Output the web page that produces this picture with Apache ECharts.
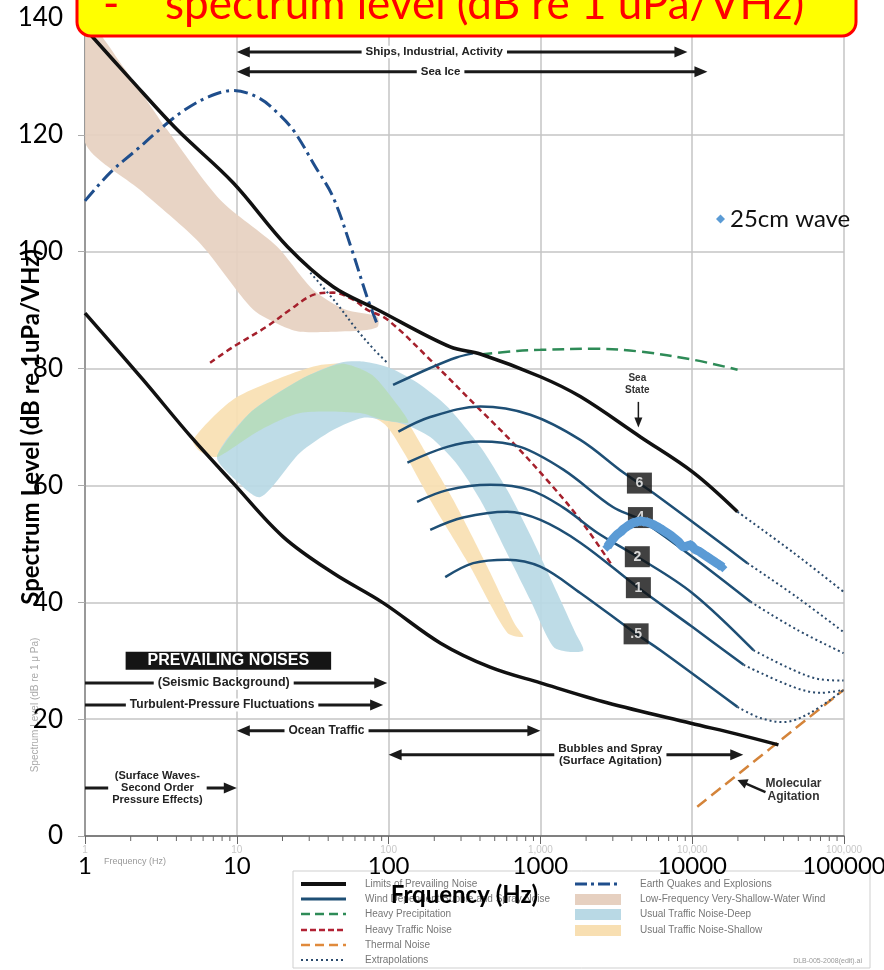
<!DOCTYPE html>
<html>
<head>
<meta charset="utf-8">
<script src="https://cdn.jsdelivr.net/npm/echarts@6/dist/echarts.min.js"></script>
<style>html,body{margin:0;padding:0;background:#fff}#chart{width:884px;height:970px}</style>
</head>
<body>
<div id="chart"></div>
<script>
// ---------------- data ----------------
const freqMin = 1, freqMax = 100000;
const levelMin = 0, levelMax = 140, levelStep = 20;
const minorMantissa = [2,3,4,5,6,7,8,9];
const decades = [1,10,100,1000,10000];

// curves: [frequency Hz, spectrum level dB]
const limitUpper = [[1,138.2],[2,129.5],[4.04,120.9],[9.46,111.8],[21.5,100.9],[43.1,94.0],[84,90.1],[255,83.7],[402,82.5],[1000,78.6],[1832,75.2],[4560,68.3],[10190,62.2],[19860,55.5]];
const limitUpperExtrap = [[19860,55.5],[46400,48.5],[99300,41.8]];
const limitLower = [[1,89.5],[2.41,78.1],[5,68.3],[9.46,60.4],[20.2,51.2],[43.1,45.0],[92,39.9],[220,33.0],[466,28.9],[1000,26.2],[2750,22.8],[9800,19.3],[20000,17.4],[37000,15.6]];
const lowFreqExtrap = [[30.5,96.4],[45,91.3],[62,86.6],[80,83.3],[98,81.0]];
const earthquake = [[1,108.7],[1.46,113.5],[2.2,117.5],[3.1,120.9],[4.5,124.2],[6.5,126.5],[9.5,127.6],[14,126.3],[19,123.5],[24,120.5],[33,114.5],[43,109.4],[57,100.5],[72,92.3],[85,87.3]];
const heavyTraffic = [[6.67,81.0],[9.46,83.7],[15.8,87.2],[22.5,90.1],[31.8,92.6],[43,93.0],[58.4,91.8],[72,90.1],[98,88.4],[188,81.5],[402,72.9],[660,67.3],[1100,61.0],[1832,54.1],[3000,46.1]];
const precipitation = [[402,82.4],[700,83.0],[1000,83.2],[2250,83.4],[4560,82.9],[10200,81.5],[19900,79.8]];
const thermal = [[10800,5.0],[99300,25.0]];

const windTop = [[107,77.2],[188,80.1],[280,81.9],[360,82.6]];
const windS6 = [[116,69.2],[188,71.7],[402,73.5],[858,72.1],[1832,67.8],[3520,62.2],[5550,58.7],[23100,46.7]];
const windS6Extrap = [[23100,46.7],[49400,40.8],[99300,34.9]];
const windS4 = [[133,63.9],[243,66.6],[402,67.5],[736,66.6],[1416,62.7],[3000,56.3],[4560,54.1],[10000,47.8],[24200,40.1]];
const windS4Extrap = [[24200,40.1],[49000,35.3],[99300,31.3]];
const windS2 = [[154,57.2],[243,59.2],[468,60.1],[858,59.2],[1416,56.2],[2370,51.9],[4350,47.8],[10000,41.6],[25300,31.8]];
const windS2Extrap = [[25300,31.8],[46400,28.4],[70000,26.8],[99300,26.6]];
const windS1 = [[188,52.4],[310,54.5],[605,55.5],[1000,54.1],[1832,50.2],[4420,42.5],[10000,35.8],[21800,29.3]];
const windS1Extrap = [[21800,29.3],[46400,25.5],[70000,24.5],[99300,25.0]];
const windS05 = [[236,44.3],[361,46.7],[605,47.3],[1000,46.1],[1832,41.6],[4270,34.6],[6170,31.8],[19860,22.1]];
const windS05Extrap = [[19860,22.1],[28100,20.2],[39900,19.5],[60100,21.1],[99300,25.0]];

// shaded bands: upper edge left->right, lower edge right->left
const shallowWindUpper = [[1,139.7],[1.84,131.2],[3.47,120.9],[7.76,108.9],[18.4,100.9],[31.8,93.5],[51.7,90.1],[84,88.9]];
const shallowWindLower = [[85,87.2],[72,86.6],[43,86.3],[26.1,86.3],[20.2,87.2],[12.8,90.1],[5.7,101.5],[2.3,110.6],[1,118.7]];
const trafficShallowUpper = [[5.15,67.8],[9.46,74.7],[20.2,78.6],[33.8,80.5],[51.7,80.8],[78,78.9],[114,73.8],[174,65.8],[267,57.5],[447,46.1],[684,36.1],[771,34.1]];
const trafficShallowLower = [[605,34.8],[345,46.1],[188,57.5],[129,65.2],[95,70.4],[65,72.4],[26.1,72.4],[14.3,69.5],[7.41,64.9],[5.73,65.8]];
const trafficDeepUpper = [[7.41,64.9],[12.2,72.4],[26.1,78.1],[48,81.0],[68,81.2],[102,80.1],[154,77.6],[243,73.5],[402,66.6],[605,59.2],[858,51.5],[1292,41.6],[1700,34.8],[1920,31.8]];
const trafficDeepLower = [[1575,31.5],[1217,32.4],[858,40.4],[587,49.0],[402,57.5],[275,64.0],[188,68.3],[129,70.4],[92,71.2],[68,71.6],[43,69.5],[26.1,65.6],[14.3,58.0],[9.75,61.0]];
const trafficOverlap = [[7.41,64.9],[12.2,72.4],[26.1,78.1],[40,80.2],[51.7,80.8],[78,78.9],[114,73.8],[135,70.8],[110,70.9],[92,71.2],[65,72.4],[26.1,72.4],[14.3,69.5]];

// measured series
const wave25cm = [[2760,49.5],[2900,50.3],[3000,50.8],[3200,51.6],[3360,52.0],[3550,52.6],[3740,53.0],[3950,53.4],[4100,53.6],[4350,53.8],[4560,53.9],[4800,53.8],[5070,53.7],[5400,53.4],[5720,53.1],[6100,52.7],[6460,52.3],[7000,51.7],[7520,51.1],[8100,50.4],[8750,49.5],[9250,49.6],[9730,49.8],[10400,49.1],[11300,48.6],[12200,48.0],[13200,47.4],[14300,46.8],[15300,46.3],[15800,46.0]];

// sea state labels
const seaStateLabels = ['6','4','2','1','.5'];
const seaStateFreq = [4490,4560,4350,4420,4270];
const seaStateLevel = [60.4,54.5,47.8,42.5,34.6];

// range annotations
const annoText = ['Ships, Industrial, Activity','Sea Ice','(Seismic Background)','Turbulent-Pressure Fluctuations','Ocean Traffic','Bubbles and Spray\n(Surface Agitation)','(Surface Waves-\nSecond Order\nPressure Effects)'];
const annoFrom = [10,10,1,1,10,100,1];
const annoTo = [9300,12600,98,92,1000,21700,10];
const annoLevel = [134.2,130.8,26.2,22.4,18.0,13.9,8.2];
const annoTextAt = [200,220,8.2,8,39,2890,3.0];
const annoBothHeads = [true,true,false,false,true,true,false];

// notes
const noteText = ['PREVAILING NOISES','Sea\nState','Molecular\nAgitation'];
const noteAt = [[8.8,30.0],[4350,77.4],[46500,7.9]];
const noteArrowFrom = [null,[4420,74.3],[30400,7.5]];
const noteArrowTo = [null,[4420,69.9],[19860,9.6]];

// ---------------- styling / rendering ----------------
const ANNO_FONT = [11.5,11.5,12.5,12,12,11.5,11];
const minorTicks = [];
decades.forEach(d => minorMantissa.forEach(m => minorTicks.push(m*d)));

function band(name, pts, color, z) {
  return {
    type:'custom', name, silent:true, z, clip:true,
    data:[pts[0]],
    renderItem:(params, api) => ({
      type:'polygon',
      shape:{points: pts.map(p => api.coord(p)), smooth:0.25},
      style:{fill:color, opacity:0.92}
    })
  };
}
function curve(name, data, color, width, type, z) {
  return {type:'line', name, data, silent:true, symbol:'none', showSymbol:false, smooth:0.35, z,
    lineStyle:{color, width, type: type || 'solid', cap:'butt'}};
}
const BLK = '#111', WIND = '#1e4f75', EXT = '#2a4a6c';

function arrowHead(tip, dir, hl, hw) {
  return {type:'polygon', shape:{points:[[tip[0],tip[1]],[tip[0]-dir[0]*hl+dir[1]*hw, tip[1]-dir[1]*hl-dir[0]*hw],[tip[0]-dir[0]*hl-dir[1]*hw, tip[1]-dir[1]*hl+dir[0]*hw]]}, style:{fill:'#1a1a1a'}};
}
const LEG_FONT = '10px "Liberation Sans"';
function legText(x, y, text) {
  return {type:'text', z:-1, x, y, style:{text, fill:'#777', font:LEG_FONT, textVerticalAlign:'middle', verticalAlign:'middle'}};
}

const option = {
  animation:false,
  backgroundColor:'#fff',
  grid:{left:85, right:40, top:18, bottom:134, containLabel:false, outerBoundsMode:'none'},
  legend:{data:['25cm wave'], left:711, top:202, icon:'diamond', itemWidth:9, itemHeight:9, itemGap:6,
    textStyle:{fontSize:24, color:'#111', fontFamily:'Lato'}},
  xAxis:[{
    type:'log', logBase:10, min:freqMin, max:freqMax,
    name:'Frquency (Hz)', nameLocation:'middle', nameGap:47, nameMoveOverlap:false,
    nameTextStyle:{fontSize:24, fontWeight:'bold', color:'#000', fontFamily:'Lato'},
    axisLine:{show:true, lineStyle:{color:'#666', width:1.5}},
    axisTick:{show:true, length:8, lineStyle:{color:'#666'}},
    axisLabel:{fontSize:24, color:'#000', fontFamily:'Lato', margin:18, showMinLabel:true, showMaxLabel:true, hideOverlap:false,
      formatter: v => String(Math.round(v))},
    splitLine:{show:true, lineStyle:{color:'#c4c4c4', width:1.5}}
  },{
    type:'log', logBase:10, min:freqMin, max:freqMax, position:'bottom',
    axisLine:{show:false}, axisTick:{show:false}, splitLine:{show:false},
    axisLabel:{fontSize:10, color:'#c8c8c8', margin:9, formatter: v => Math.round(v).toLocaleString('en-US')}
  }],
  yAxis:{
    type:'value', min:levelMin, max:levelMax, interval:levelStep,
    name:'Spectrum Level (dB re 1uPa/VHz)', nameLocation:'middle', nameGap:42, nameRotate:90, nameMoveOverlap:false,
    nameTextStyle:{fontSize:24, fontWeight:'bold', color:'#000', fontFamily:'Lato'},
    axisLine:{show:true, lineStyle:{color:'#999', width:2}},
    axisTick:{show:true, length:7, lineStyle:{color:'#aaa'}},
    axisLabel:{fontSize:26, color:'#000', fontFamily:'Lato', margin:22},
    splitLine:{show:true, lineStyle:{color:'#c4c4c4', width:1.5}}
  },
  graphic:{elements:[
    // title box
    {type:'rect', z:100, shape:{x:77, y:-22, width:779, height:58, r:14}, style:{fill:'#ffff00', stroke:'#ff0000', lineWidth:3}},
    {type:'text', z:101, x:103, y:5, style:{text:'-', fill:'#ff0000', font:'44px Lato', textVerticalAlign:'middle', verticalAlign:'middle'}},
    {type:'text', z:101, x:165, y:5, style:{text:'spectrum level (dB re 1 uPa/VHz)', fill:'#ff0000', font:'44px Lato', textVerticalAlign:'middle', verticalAlign:'middle'}},
    // faint texts of the underlying figure
    {type:'text', z:-1, x:35, y:705, rotation:Math.PI/2, style:{text:'Spectrum Level (dB re 1 \u03bc Pa)', fill:'#aaa', font:'10px "Liberation Sans"', textAlign:'center', align:'center', textVerticalAlign:'middle', verticalAlign:'middle'}},
    {type:'text', z:-1, x:135, y:862, style:{text:'Frequency (Hz)', fill:'#999', font:'9px "Liberation Sans"', textAlign:'center', align:'center', textVerticalAlign:'middle', verticalAlign:'middle'}},
    // legend of the underlying figure
    {type:'rect', z:-2, shape:{x:293, y:871, width:577, height:97}, style:{fill:'#fff', stroke:'#cfcfcf', lineWidth:1}},
    {type:'line', z:-1, shape:{x1:301,y1:884,x2:346,y2:884}, style:{stroke:BLK, lineWidth:4}},
    {type:'line', z:-1, shape:{x1:301,y1:899,x2:346,y2:899}, style:{stroke:WIND, lineWidth:3}},
    {type:'line', z:-1, shape:{x1:301,y1:914,x2:346,y2:914}, style:{stroke:'#2e8b57', lineWidth:2.5, lineDash:[9,5]}},
    {type:'line', z:-1, shape:{x1:301,y1:930,x2:346,y2:930}, style:{stroke:'#b22234', lineWidth:2.5, lineDash:[6,3]}},
    {type:'line', z:-1, shape:{x1:301,y1:945,x2:346,y2:945}, style:{stroke:'#e08a3c', lineWidth:2.5, lineDash:[9,5]}},
    {type:'line', z:-1, shape:{x1:301,y1:960,x2:346,y2:960}, style:{stroke:EXT, lineWidth:2, lineDash:[2,3]}},
    legText(365, 884, 'Limits of Prevailing Noise'),
    legText(365, 899, 'Wind Dependent Bubble and Spray Noise'),
    legText(365, 914, 'Heavy Precipitation'),
    legText(365, 930, 'Heavy Traffic Noise'),
    legText(365, 945, 'Thermal Noise'),
    legText(365, 960, 'Extrapolations'),
    {type:'line', z:-1, shape:{x1:575,y1:884,x2:621,y2:884}, style:{stroke:'#1f4e8c', lineWidth:3, lineDash:[12,4,3,4]}},
    {type:'rect', z:-1, shape:{x:575,y:894,width:46,height:11}, style:{fill:'#e6d0c0'}},
    {type:'rect', z:-1, shape:{x:575,y:909,width:46,height:11}, style:{fill:'#b9d9e5'}},
    {type:'rect', z:-1, shape:{x:575,y:925,width:46,height:11}, style:{fill:'#f8dfb2'}},
    legText(640, 884, 'Earth Quakes and Explosions'),
    legText(640, 899, 'Low-Frequency Very-Shallow-Water Wind'),
    legText(640, 914, 'Usual Traffic Noise-Deep'),
    legText(640, 930, 'Usual Traffic Noise-Shallow'),
    {type:'text', z:-1, x:862, y:961, style:{text:'DLB-005-2008(edit).ai', fill:'#999', font:'7px "Liberation Sans"', textAlign:'right', align:'right', textVerticalAlign:'middle', verticalAlign:'middle'}}
  ]},
  series:[
    band('Low-Frequency Very-Shallow-Water Wind', shallowWindUpper.concat(shallowWindLower), '#e6d0c0', 1),
    band('Usual Traffic Noise-Shallow', trafficShallowUpper.concat(trafficShallowLower), '#f8dfb2', 1),
    band('Usual Traffic Noise-Deep', trafficDeepUpper.concat(trafficDeepLower), '#b9d9e5', 1),
    band('Traffic overlap', trafficOverlap, '#b6dcbc', 1),
    curve('Extrapolation LF', lowFreqExtrap, EXT, 2, [2,3], 3),
    curve('Earth Quakes and Explosions', earthquake, '#1f4e8c', 3, [14,5,3,5], 3),
    curve('Heavy Traffic Noise', heavyTraffic, '#a5202c', 2.5, [6,4], 3),
    curve('Heavy Precipitation', precipitation, '#2e8b57', 2.5, [12,6], 3),
    curve('Thermal Noise', thermal, '#d4843a', 2.5, [12,6], 3),
    curve('Wind top', windTop, WIND, 2.5, 'solid', 3),
    curve('Wind 6', windS6, WIND, 2.5, 'solid', 3),
    curve('Wind 4', windS4, WIND, 2.5, 'solid', 3),
    curve('Wind 2', windS2, WIND, 2.5, 'solid', 3),
    curve('Wind 1', windS1, WIND, 2.5, 'solid', 3),
    curve('Wind .5', windS05, WIND, 2.5, 'solid', 3),
    curve('Wind 6 ext', windS6Extrap, EXT, 2, [2,3], 3),
    curve('Wind 4 ext', windS4Extrap, EXT, 2, [2,3], 3),
    curve('Wind 2 ext', windS2Extrap, EXT, 2, [2,3], 3),
    curve('Wind 1 ext', windS1Extrap, EXT, 2, [2,3], 3),
    curve('Wind .5 ext', windS05Extrap, EXT, 2, [2,3], 3),
    curve('Limit upper ext', limitUpperExtrap, EXT, 2, [2,3], 3),
    curve('Limits of Prevailing Noise', limitUpper, BLK, 3.5, 'solid', 4),
    curve('Limits lower', limitLower, BLK, 3.5, 'solid', 4),
    {
      type:'custom', name:'minor ticks', silent:true, z:2,
      data: minorTicks.map(v => [v, levelMin]),
      renderItem:(params, api) => {
        const p = api.coord([api.value(0), api.value(1)]);
        return {type:'line', shape:{x1:p[0], y1:p[1], x2:p[0], y2:p[1]+5}, style:{stroke:'#666', lineWidth:1}};
      }
    },
    {
      type:'custom', name:'ranges', silent:true, z:5,
      data: annoLevel.map((l,i) => [annoFrom[i], l]),
      renderItem:(params, api) => {
        const i = params.dataIndex;
        const a = api.coord([annoFrom[i], annoLevel[i]]);
        const b = api.coord([annoTo[i], annoLevel[i]]);
        const t = api.coord([annoTextAt[i], annoLevel[i]]);
        const hl = 13, hw = 5.5;
        const ch = [];
        ch.push({type:'line', shape:{x1:a[0] + (annoBothHeads[i] ? hl-3 : 0), y1:a[1], x2:b[0]-hl+3, y2:b[1]}, style:{stroke:'#1a1a1a', lineWidth:3}});
        ch.push(arrowHead(b, [1,0], hl, hw));
        if (annoBothHeads[i]) ch.push(arrowHead(a, [-1,0], hl, hw));
        ch.push({type:'text', x:t[0], y:t[1], style:{text:annoText[i], fill:'#222',
          font:'bold ' + ANNO_FONT[i] + 'px "Liberation Sans"', textAlign:'center', align:'center',
          textVerticalAlign:'middle', verticalAlign:'middle', backgroundColor:'#fff', padding:[0,4], lineHeight:ANNO_FONT[i]+1}});
        return {type:'group', children:ch};
      }
    },
    {
      type:'custom', name:'notes', silent:true, z:5,
      data: noteAt,
      renderItem:(params, api) => {
        const i = params.dataIndex;
        const p = api.coord(noteAt[i]);
        const ch = [];
        if (i === 0) {
          ch.push({type:'text', x:p[0], y:p[1], style:{text:noteText[i], fill:'#fff', font:'bold 16px "Liberation Sans"',
            textAlign:'center', align:'center', textVerticalAlign:'middle', verticalAlign:'middle', backgroundColor:'#151515', padding:[1,22]}});
        } else {
          const a = api.coord(noteArrowFrom[i]), b = api.coord(noteArrowTo[i]);
          const dx = b[0]-a[0], dy = b[1]-a[1], len = Math.sqrt(dx*dx+dy*dy);
          const d = [dx/len, dy/len];
          ch.push({type:'line', shape:{x1:a[0], y1:a[1], x2:b[0]-d[0]*8, y2:b[1]-d[1]*8}, style:{stroke:'#1a1a1a', lineWidth: i===1 ? 1.5 : 2.5}});
          ch.push(arrowHead(b, d, 10, i===1 ? 4 : 5));
          ch.push({type:'text', x:p[0], y:p[1], style:{text:noteText[i], fill:'#333', font:'bold ' + (i===1 ? 10 : 12) + 'px "Liberation Sans"',
            textAlign:'center', align:'center', textVerticalAlign:'middle', verticalAlign:'middle', lineHeight: i===1 ? 12 : 13}});
        }
        return {type:'group', children:ch};
      }
    },
    {
      type:'scatter', name:'sea state', silent:true, z:6,
      data: seaStateLabels.map((t,i) => [seaStateFreq[i], seaStateLevel[i], t]),
      symbol:'rect', symbolSize:[25,21], itemStyle:{color:'#111'},
      label:{show:true, position:'inside', formatter: p => p.value[2], color:'#fff', fontWeight:'bold', fontSize:14, fontFamily:'Liberation Sans'}
    },
    {
      type:'line', name:'25cm wave', data: wave25cm, z:10, smooth:0.3,
      symbol:'diamond', symbolSize:10, showSymbol:true,
      itemStyle:{color:'#5b9bd5'}, lineStyle:{color:'#5b9bd5', width:9}
    }
  ]
};
const chart = echarts.init(document.getElementById('chart'), null, {renderer:'canvas'});
chart.setOption(option);
</script>
</body>
</html>
